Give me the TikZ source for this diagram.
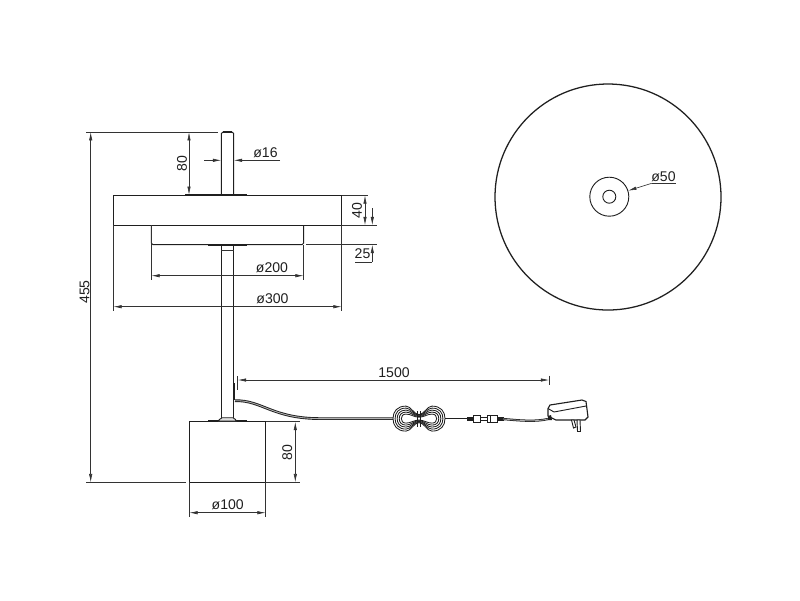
\documentclass[tikz,border=0pt]{standalone}
\usepackage{fontspec}
\setmainfont{Liberation Sans}
\usepackage{tikz}
\usetikzlibrary{arrows.meta}
\definecolor{inkdark}{gray}{0.12}
\definecolor{inkdim}{gray}{0.2}

\begin{document}
\begin{tikzpicture}[x=0.025cm,y=-0.025cm,
  outline/.style={draw=inkdark,line width=0.65pt},
  heavy/.style={draw=inkdark,line width=1.1pt},
  extline/.style={draw=inkdim,line width=0.45pt},
  dimline/.style={draw=inkdim,line width=0.45pt,{Latex[length=6pt,width=2.4pt]}-{Latex[length=6pt,width=2.4pt]}},
  tipline/.style={draw=inkdim,line width=0.45pt,-{Latex[length=6pt,width=2.4pt]}},
  dimtext/.style={inner sep=0pt,text=inkdark,font=\fontsize{10}{10}\selectfont}]
\useasboundingbox (0,0) rectangle (800,600);
\begin{scope}
  \draw[outline] (221.3,195) -- (221.3,133.5) to[out=90,in=180] (223,132) -- (232,132) to[out=0,in=90] (233.7,133.5) -- (233.7,195);
  \draw[heavy] (223,132) -- (232,132);
  \draw[heavy] (185,194.6) -- (246.7,194.6);
  \draw[outline] (113.3,195.3) rectangle (341.7,225.3);
  \draw[heavy] (113.3,195.3) -- (341.7,195.3);
  \draw[heavy] (113.3,225.3) -- (341.7,225.3);
  \draw[outline] (151.3,225.3) -- (151.3,243) -- (153,244.7) -- (302,244.7) -- (303.7,243) -- (303.7,225.3);
  \draw[heavy] (153,244.7) -- (302,244.7);
  \draw[heavy] (208,245.6) -- (246.7,245.6);
  \draw[outline] (221.3,246) -- (221.3,418);
  \draw[outline] (233.7,246) -- (233.7,418);
  \draw[extline] (221.3,250) -- (233.7,250);
  \draw[outline] (189.3,421.7) rectangle (265.7,482.3);
  \draw[heavy] (208.3,421.2) -- (246.7,421.2);
  \draw[outline,fill=gray!25] (218,421) -- (220,419) to[out=-60,in=180] (222,417.7) -- (233,417.7) to[out=0,in=-120] (235,419) -- (236.5,421) -- cycle;
  \draw[heavy] (234.4,383) -- (234.4,400);
\end{scope}
\begin{scope}
  \draw[draw=inkdark,line width=1.9pt] (235,400.7) .. controls (262,400) and (272,418.5) .. (320,418.6) -- (393,418.6);
  \draw[draw=gray!60,line width=0.6pt] (235,400.7) .. controls (262,400) and (272,418.5) .. (320,418.6) -- (393,418.6);
  \foreach \s in {1,0.84,0.68,0.52,0.36} {
    \foreach \m in {-1,1} {
      \begin{scope}[shift={(419,418.6)},xscale=\m]
        \draw[draw=inkdark,line width=0.6pt] (0,{-4*\s}) .. controls (5,{-4*\s}) and (8,{-12.5*\s}) .. (13,{-12.5*\s})
          .. controls ({13+9*\s},{-12.5*\s}) and ({13+13*\s},{-7*\s}) .. ({13+13*\s},0)
          .. controls ({13+13*\s},{7*\s}) and ({13+9*\s},{12.5*\s}) .. (13,{12.5*\s})
          .. controls (8,{12.5*\s}) and (5,{4*\s}) .. (0,{4*\s});
      \end{scope}
    }
  }
  \draw[outline] (417.5,411) -- (417.5,427);
  \draw[outline] (420.5,411) -- (420.5,427);
  \draw[outline,line width=0.9pt] (445,418.7) -- (468,418.7);
  \fill[inkdark] (467,416.5) rectangle (473,421);
  \draw[outline] (473,415.5) rectangle (480,422);
  \draw[outline] (480,417) -- (487,417);
  \draw[outline] (480,420.5) -- (487,420.5);
  \draw[outline] (487,415.5) rectangle (490,422);
  \draw[outline] (490,415.5) rectangle (497,422);
  \fill[inkdark] (497,416.5) rectangle (503.5,421);
  \draw[draw=inkdark,line width=1.6pt] (503,419) .. controls (520,420.5) and (535,422) .. (548,419);
  \draw[draw=gray!60,line width=0.5pt] (503,419) .. controls (520,420.5) and (535,422) .. (548,419);
  \draw[outline,fill=white,line width=0.8pt] (548,408.5) -- (550,405) -- (582,400) -- (586,401.5) -- (588,417) -- (585,420) -- (556,420) -- (548,416) -- cycle;
  \draw[outline] (548,408.5) -- (554,412) -- (586,406);
  \fill[inkdark] (548,416) -- (551,415) -- (552,420) -- (548,420) -- cycle;
  \draw[outline,fill=white] (571.5,420) -- (574,420) -- (576,427) -- (573.5,428) -- cycle;
  \draw[outline,fill=white] (577,420) -- (580,420) -- (580.5,431.5) -- (577.5,431.5) -- cycle;
\end{scope}
\begin{scope}
  \draw[outline,line width=0.9pt] (608,197) circle (113);
  \draw[outline] (609.3,196.7) circle (19.5);
  \draw[outline] (609.3,196.7) circle (6.5);
\end{scope}
\draw[extline] (86,132) -- (218,132);
\draw[extline] (86,482.4) -- (186,482.4);
\draw[dimline] (90.7,132) -- (90.7,482.4);
\node[dimtext,rotate=90] (dimtotal) at (84.5,292) {455};
\draw[dimline] (189,132) -- (189,195);
\node[dimtext,rotate=90] (dimtop) at (182,163.5) {80};
\draw[tipline] (204,160.3) -- (221.3,160.3);
\draw[tipline] (280,160.3) -- (233.7,160.3);
\node[dimtext] (dimpole) at (265.5,153) {ø16};
\draw[extline] (341.7,195.3) -- (368,195.3);
\draw[extline] (341.7,225.3) -- (376.7,225.3);
\draw[dimline] (365,195.3) -- (365,225.3);
\node[dimtext,rotate=90] (dimdisc) at (357,210.5) {40};
\draw[extline] (306,244.7) -- (376.7,244.7);
\draw[tipline] (372.3,208) -- (372.3,225.3);
\draw[tipline] (372.3,262) -- (372.3,244.7);
\draw[extline] (355,262) -- (372.3,262);
\node[dimtext] (dimlower) at (362.5,254) {25};
\draw[extline] (151.3,225.3) -- (151.3,280);
\draw[extline] (303.7,245) -- (303.7,280);
\draw[dimline] (151.3,275.7) -- (303.7,275.7);
\node[dimtext] (dimsmall) at (272,268) {ø200};
\draw[extline] (113.3,225.3) -- (113.3,310.7);
\draw[extline] (341.7,225.3) -- (341.7,310.7);
\draw[dimline] (113.3,306.7) -- (341.7,306.7);
\node[dimtext] (dimwide) at (272.5,299) {ø300};
\draw[extline] (265.7,421.7) -- (300,421.7);
\draw[extline] (265.7,482.4) -- (300,482.4);
\draw[dimline] (295.3,421.7) -- (295.3,482.4);
\node[dimtext,rotate=90] (dimbase) at (287.3,452.5) {80};
\draw[extline] (189.3,482.3) -- (189.3,516.5);
\draw[extline] (265.7,482.3) -- (265.7,516.5);
\draw[dimline] (189.3,512.7) -- (265.7,512.7);
\node[dimtext] (dimfoot) at (227.7,505) {ø100};
\draw[extline] (237.7,376) -- (237.7,390);
\draw[extline] (549.3,375.5) -- (549.3,384.5);
\draw[dimline] (237.7,380) -- (549.3,380);
\node[dimtext] (dimcable) at (394,372.5) {1500};
\draw[tipline] (651.7,183.3) -- (628,190.7);
\draw[extline] (651.7,183.3) -- (675.7,183.3);
\node[dimtext] (dimhole) at (663.5,176.5) {ø50};
\end{tikzpicture}
\end{document}
